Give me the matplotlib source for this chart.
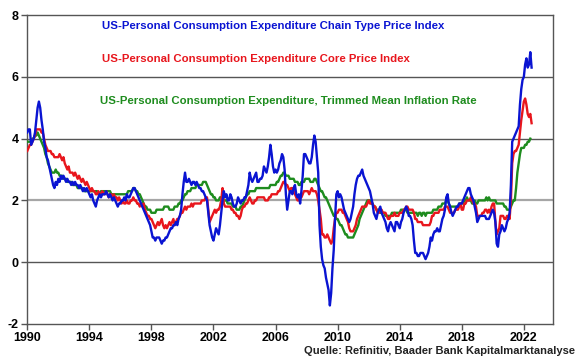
"""PCE inflation chart: headline, core and trimmed mean (y/y, %)."""
import matplotlib
matplotlib.use("Agg")
import matplotlib.pyplot as plt
import numpy as np

plt.rcParams['font.family'] = ['Liberation Sans', 'DejaVu Sans']
plt.rcParams['axes.unicode_minus'] = False

START_YEAR = 1990

# monthly y/y rates from Jan 1990
pce_headline = [
    4.2, 4.3, 4.3, 3.8, 3.9, 4.0, 4.2, 4.6, 5.0, 5.2, 5.0, 4.6,  # 1990
    4.3, 3.9, 3.7, 3.4, 3.3, 3.1, 2.9, 2.7, 2.5, 2.4, 2.6, 2.5,  # 1991
    2.7, 2.6, 2.8, 2.7, 2.8, 2.7, 2.6, 2.7, 2.6, 2.6, 2.5, 2.6,  # 1992
    2.5, 2.6, 2.5, 2.5, 2.4, 2.5, 2.4, 2.3, 2.4, 2.3, 2.4, 2.3,  # 1993
    2.2, 2.1, 2.2, 2.0, 1.9, 1.8, 2.0, 2.1, 2.2, 2.1, 2.2, 2.2,  # 1994
    2.2, 2.3, 2.2, 2.1, 2.2, 2.1, 2.0, 2.1, 2.0, 1.9, 1.8, 1.9,  # 1995
    1.9, 2.0, 2.0, 2.1, 2.0, 2.2, 2.1, 2.1, 2.2, 2.3, 2.4, 2.4,  # 1996
    2.3, 2.2, 2.1, 2.0, 1.9, 1.8, 1.7, 1.6, 1.5, 1.4, 1.3, 1.2,  # 1997
    1.0, 0.8, 0.8, 0.7, 0.8, 0.8, 0.8, 0.7, 0.6, 0.7, 0.7, 0.8,  # 1998
    0.8, 0.9, 1.0, 1.1, 1.1, 1.2, 1.2, 1.3, 1.2, 1.4, 1.5, 1.7,  # 1999
    2.2, 2.6, 2.9, 2.6, 2.6, 2.7, 2.6, 2.5, 2.6, 2.6, 2.5, 2.6,  # 2000
    2.5, 2.4, 2.4, 2.3, 2.3, 2.2, 2.1, 2.0, 1.6, 1.2, 1.0, 0.8,  # 2001
    0.7, 0.9, 1.1, 1.0, 0.9, 1.2, 1.6, 2.0, 2.3, 2.1, 2.2, 2.0,  # 2002
    2.0, 2.2, 2.1, 1.9, 1.8, 1.8, 1.9, 2.1, 2.0, 1.9, 2.0, 2.0,  # 2003
    2.1, 2.1, 2.3, 2.5, 2.9, 2.7, 2.6, 2.7, 2.8, 2.9, 2.6, 2.6,  # 2004
    2.7, 2.7, 2.8, 3.1, 3.0, 2.9, 3.1, 3.4, 3.8, 3.5, 3.1, 2.9,  # 2005
    3.0, 2.9, 3.0, 3.2, 3.3, 3.5, 3.4, 3.0, 2.2, 1.7, 2.0, 2.3,  # 2006
    2.3, 2.2, 2.4, 2.5, 2.2, 2.1, 2.2, 1.9, 2.3, 2.8, 3.5, 3.5,  # 2007
    3.4, 3.3, 3.2, 3.2, 3.4, 3.8, 4.1, 3.9, 3.4, 2.9, 1.2, 0.5,  # 2008
    0.1, -0.1, -0.2, -0.5, -0.7, -0.9, -1.4, -1.0, -0.2, 0.4, 1.4, 2.2,  # 2009
    2.3, 2.1, 2.2, 2.1, 1.9, 1.7, 1.6, 1.5, 1.4, 1.3, 1.4, 1.6,  # 2010
    1.8, 2.2, 2.5, 2.7, 2.8, 2.8, 2.9, 3.0, 2.8, 2.7, 2.6, 2.5,  # 2011
    2.4, 2.3, 2.1, 1.9, 1.6, 1.5, 1.4, 1.6, 1.7, 1.8, 1.6, 1.5,  # 2012
    1.4, 1.3, 1.1, 1.0, 1.2, 1.3, 1.2, 1.1, 1.0, 1.3, 1.3, 1.2,  # 2013
    1.1, 1.3, 1.4, 1.6, 1.7, 1.8, 1.7, 1.5, 1.5, 1.4, 1.2, 0.7,  # 2014
    0.3, 0.3, 0.2, 0.2, 0.3, 0.3, 0.3, 0.2, 0.1, 0.2, 0.3, 0.5,  # 2015
    0.8, 0.7, 0.9, 1.0, 1.0, 1.1, 1.0, 1.0, 1.2, 1.4, 1.5, 1.7,  # 2016
    2.1, 2.2, 1.9, 1.8, 1.6, 1.5, 1.6, 1.7, 1.8, 1.8, 1.9, 1.9,  # 2017
    1.9, 2.0, 2.1, 2.2, 2.3, 2.4, 2.4, 2.2, 2.1, 2.0, 1.8, 1.6,  # 2018
    1.3, 1.4, 1.5, 1.5, 1.5, 1.5, 1.5, 1.4, 1.4, 1.4, 1.5, 1.6,  # 2019
    1.7, 1.6, 1.3, 0.6, 0.5, 0.9, 1.0, 1.2, 1.1, 1.0, 1.1, 1.3,  # 2020
    1.4, 1.6, 2.5, 3.9, 4.0, 4.1, 4.2, 4.3, 4.4, 5.1, 5.6, 5.9,  # 2021
    6.0, 6.4, 6.6, 6.3, 6.4, 6.8, 6.3,                           # 2022
]

pce_core = [
    3.6, 3.7, 3.8, 3.8, 3.9, 4.0, 4.1, 4.3, 4.3, 4.3, 4.3, 4.2,  # 1990
    4.2, 4.0, 3.8, 3.7, 3.6, 3.6, 3.6, 3.5, 3.5, 3.4, 3.4, 3.4,  # 1991
    3.4, 3.5, 3.4, 3.3, 3.4, 3.2, 3.1, 3.0, 3.1, 2.9, 2.9, 2.9,  # 1992
    2.8, 2.9, 2.8, 2.7, 2.8, 2.7, 2.6, 2.7, 2.6, 2.5, 2.6, 2.5,  # 1993
    2.4, 2.3, 2.4, 2.3, 2.3, 2.2, 2.2, 2.3, 2.2, 2.2, 2.3, 2.2,  # 1994
    2.2, 2.3, 2.2, 2.1, 2.2, 2.2, 2.1, 2.2, 2.1, 2.1, 2.0, 2.1,  # 1995
    2.0, 1.9, 2.0, 1.9, 1.9, 2.0, 1.9, 1.9, 2.0, 2.0, 2.1, 2.0,  # 1996
    2.0, 1.9, 1.9, 1.8, 1.9, 1.8, 1.9, 1.7, 1.6, 1.5, 1.5, 1.4,  # 1997
    1.4, 1.3, 1.2, 1.1, 1.2, 1.3, 1.2, 1.3, 1.4, 1.2, 1.1, 1.2,  # 1998
    1.1, 1.2, 1.3, 1.2, 1.3, 1.4, 1.2, 1.3, 1.4, 1.4, 1.5, 1.6,  # 1999
    1.6, 1.7, 1.8, 1.7, 1.8, 1.8, 1.8, 1.9, 1.8, 1.9, 1.9, 1.9,  # 2000
    1.9, 1.9, 1.9, 2.0, 2.0, 2.0, 2.1, 2.1, 1.7, 1.3, 1.4, 1.5,  # 2001
    1.6, 1.7, 1.6, 1.7, 1.7, 1.8, 2.0, 2.4, 1.9, 1.8, 1.8, 1.8,  # 2002
    1.8, 1.8, 1.7, 1.7, 1.6, 1.6, 1.5, 1.5, 1.4, 1.5, 1.7, 1.8,  # 2003
    1.8, 1.9, 1.9, 2.0, 2.1, 2.0, 1.9, 1.9, 2.0, 2.0, 2.1, 2.1,  # 2004
    2.1, 2.1, 2.1, 2.1, 2.0, 2.0, 2.0, 2.1, 2.1, 2.2, 2.2, 2.2,  # 2005
    2.2, 2.2, 2.3, 2.3, 2.4, 2.5, 2.6, 2.6, 2.5, 2.5, 2.4, 2.3,  # 2006
    2.4, 2.4, 2.3, 2.2, 2.1, 2.0, 2.0, 2.1, 2.1, 2.2, 2.3, 2.3,  # 2007
    2.3, 2.3, 2.2, 2.3, 2.4, 2.3, 2.3, 2.3, 2.2, 2.0, 1.7, 1.4,  # 2008
    0.9, 0.9, 0.8, 0.8, 0.9, 0.8, 0.7, 0.6, 0.7, 1.1, 1.4, 1.6,  # 2009
    1.6, 1.7, 1.7, 1.7, 1.6, 1.6, 1.5, 1.4, 1.3, 1.1, 1.0, 1.0,  # 2010
    1.0, 1.1, 1.2, 1.4, 1.5, 1.6, 1.7, 1.8, 1.8, 1.8, 1.8, 1.9,  # 2011
    2.0, 1.9, 1.9, 1.9, 1.8, 1.8, 1.7, 1.6, 1.6, 1.7, 1.7, 1.6,  # 2012
    1.6, 1.6, 1.5, 1.4, 1.4, 1.5, 1.5, 1.5, 1.6, 1.5, 1.5, 1.5,  # 2013
    1.6, 1.6, 1.6, 1.7, 1.7, 1.8, 1.8, 1.7, 1.7, 1.7, 1.7, 1.6,  # 2014
    1.4, 1.4, 1.3, 1.3, 1.3, 1.3, 1.2, 1.2, 1.2, 1.2, 1.2, 1.2,  # 2015
    1.3, 1.5, 1.5, 1.6, 1.6, 1.6, 1.6, 1.7, 1.7, 1.7, 1.7, 1.8,  # 2016
    1.8, 1.8, 1.7, 1.6, 1.6, 1.6, 1.6, 1.7, 1.7, 1.7, 1.8, 1.9,  # 2017
    1.7, 1.7, 1.9, 1.9, 2.0, 2.0, 2.0, 2.1, 2.0, 1.9, 1.9, 1.8,  # 2018
    1.5, 1.5, 1.5, 1.5, 1.6, 1.6, 1.7, 1.7, 1.6, 1.7, 1.6, 1.8,  # 2019
    1.9, 1.9, 1.3, 0.9, 1.0, 1.1, 1.5, 1.5, 1.5, 1.4, 1.4, 1.5,  # 2020
    1.5, 1.4, 2.0, 3.2, 3.5, 3.6, 3.6, 3.7, 3.8, 4.2, 4.6, 4.9,  # 2021
    5.2, 5.3, 5.1, 4.8, 4.7, 4.8, 4.5,                           # 2022
]

trimmed_mean = [
    3.9, 3.9, 3.9, 3.9, 4.0, 4.0, 4.1, 4.1, 4.2, 4.1, 4.0, 3.9,  # 1990
    3.8, 3.7, 3.5, 3.4, 3.2, 3.1, 3.0, 2.9, 2.9, 2.9, 3.0, 2.9,  # 1991
    2.9, 2.8, 2.8, 2.8, 2.7, 2.7, 2.7, 2.6, 2.6, 2.6, 2.6, 2.5,  # 1992
    2.5, 2.5, 2.5, 2.4, 2.4, 2.4, 2.4, 2.4, 2.3, 2.3, 2.3, 2.3,  # 1993
    2.3, 2.3, 2.3, 2.3, 2.3, 2.3, 2.3, 2.2, 2.2, 2.3, 2.3, 2.3,  # 1994
    2.3, 2.3, 2.3, 2.3, 2.3, 2.2, 2.2, 2.2, 2.2, 2.2, 2.2, 2.2,  # 1995
    2.2, 2.2, 2.2, 2.2, 2.2, 2.2, 2.3, 2.3, 2.3, 2.3, 2.4, 2.4,  # 1996
    2.3, 2.3, 2.2, 2.2, 2.1, 2.0, 1.9, 1.8, 1.8, 1.7, 1.7, 1.7,  # 1997
    1.6, 1.6, 1.6, 1.6, 1.7, 1.7, 1.7, 1.7, 1.7, 1.7, 1.8, 1.8,  # 1998
    1.8, 1.8, 1.7, 1.7, 1.7, 1.7, 1.8, 1.8, 1.8, 1.9, 1.9, 2.0,  # 1999
    2.0, 2.1, 2.2, 2.2, 2.3, 2.3, 2.3, 2.4, 2.4, 2.4, 2.4, 2.5,  # 2000
    2.5, 2.5, 2.5, 2.5, 2.6, 2.6, 2.6, 2.5, 2.4, 2.3, 2.2, 2.2,  # 2001
    2.1, 2.1, 2.0, 2.0, 2.0, 2.1, 2.1, 2.1, 2.0, 2.0, 2.0, 1.9,  # 2002
    1.9, 1.9, 1.9, 1.8, 1.8, 1.8, 1.7, 1.7, 1.7, 1.8, 1.8, 1.9,  # 2003
    2.0, 2.1, 2.2, 2.2, 2.3, 2.3, 2.3, 2.3, 2.3, 2.4, 2.4, 2.4,  # 2004
    2.4, 2.4, 2.4, 2.4, 2.4, 2.4, 2.4, 2.4, 2.5, 2.5, 2.5, 2.5,  # 2005
    2.5, 2.6, 2.6, 2.7, 2.8, 2.8, 2.9, 2.9, 2.8, 2.8, 2.8, 2.7,  # 2006
    2.7, 2.7, 2.7, 2.6, 2.6, 2.6, 2.5, 2.5, 2.6, 2.6, 2.6, 2.7,  # 2007
    2.7, 2.7, 2.7, 2.6, 2.6, 2.6, 2.7, 2.7, 2.6, 2.5, 2.4, 2.3,  # 2008
    2.3, 2.2, 2.1, 2.1, 2.0, 1.9, 1.8, 1.7, 1.6, 1.5, 1.5, 1.4,  # 2009
    1.4, 1.3, 1.2, 1.2, 1.1, 1.0, 0.9, 0.9, 0.8, 0.8, 0.8, 0.8,  # 2010
    0.8, 0.9, 1.0, 1.1, 1.2, 1.4, 1.5, 1.6, 1.7, 1.8, 1.9, 2.0,  # 2011
    2.0, 2.0, 1.9, 1.9, 1.8, 1.8, 1.7, 1.7, 1.7, 1.6, 1.6, 1.6,  # 2012
    1.6, 1.5, 1.5, 1.5, 1.5, 1.5, 1.6, 1.6, 1.6, 1.6, 1.6, 1.6,  # 2013
    1.6, 1.7, 1.7, 1.7, 1.7, 1.7, 1.6, 1.6, 1.6, 1.6, 1.6, 1.6,  # 2014
    1.6, 1.6, 1.5, 1.6, 1.6, 1.5, 1.6, 1.6, 1.5, 1.6, 1.6, 1.6,  # 2015
    1.6, 1.6, 1.7, 1.7, 1.7, 1.7, 1.8, 1.8, 1.8, 1.9, 1.9, 1.9,  # 2016
    2.0, 2.0, 1.9, 1.8, 1.8, 1.8, 1.8, 1.8, 1.8, 1.8, 1.9, 1.9,  # 2017
    1.9, 1.9, 2.0, 2.0, 2.1, 2.0, 2.0, 2.0, 1.9, 1.9, 2.0, 1.9,  # 2018
    1.9, 2.0, 2.0, 2.0, 2.0, 2.0, 2.0, 2.1, 2.0, 2.1, 2.0, 2.0,  # 2019
    2.0, 2.0, 2.0, 1.9, 1.9, 1.9, 1.9, 1.9, 1.9, 1.8, 1.8, 1.7,  # 2020
    1.7, 1.7, 1.8, 1.9, 2.0, 2.0, 2.4, 2.9, 3.2, 3.5, 3.7, 3.7,  # 2021
    3.7, 3.8, 3.8, 3.9, 3.9, 4.0,                                # 2022
]

series_labels = [
    'US-Personal Consumption Expenditure Chain Type Price Index',
    'US-Personal Consumption Expenditure Core Price Index',
    'US-Personal Consumption Expenditure, Trimmed Mean Inflation Rate',
]
colors = ['#0a14d2', '#e8161d', '#1e8c1e']
x_ticks = list(range(1990, 2023, 4))
y_ticks = [-2, 0, 2, 4, 6, 8]
source = 'Quelle: Refinitiv, Baader Bank Kapitalmarktanalyse'


def months(values):
    return START_YEAR + np.arange(len(values)) / 12.0


fig = plt.figure(figsize=(5.8, 3.59), dpi=100)
ax = fig.add_axes([0.047, 0.0975, 0.907, 0.8605])

# horizontal reference lines
for y in [0, 4, 6]:
    ax.axhline(y, color='#555555', lw=1.0, zorder=1)
ax.axhline(2, color='#a6a6a6', lw=1.6, zorder=1)

for vals, c in zip([trimmed_mean, pce_core, pce_headline], colors[::-1]):
    ax.plot(months(vals), vals, color=c, lw=1.7, zorder=3)

ax.set_xlim(1990, 2023.9)
ax.set_ylim(-2, 8)
ax.set_xticks(x_ticks)
ax.set_yticks(y_ticks)
ax.tick_params(direction='out', length=4, width=1, color='#555555',
               labelsize=9, pad=2)
for lab in ax.get_xticklabels() + ax.get_yticklabels():
    lab.set_fontweight('bold')
for s in ax.spines.values():
    s.set_color('#555555')
    s.set_linewidth(1.0)

# series labels inside the plot
label_pos = [(1994.82, 7.65), (1994.82, 6.58), (1994.7, 5.23)]
for (tx, ty), txt, c in zip(label_pos, series_labels, colors):
    ax.text(tx, ty, txt, color=c, fontsize=8.2, fontweight='bold',
            ha='left', va='center')

fig.text(575 / 580, 1 - 351 / 359, source, fontsize=8, fontweight='bold',
         ha='right', va='center', color='#222222')

fig.savefig('out.png', dpi=100)
